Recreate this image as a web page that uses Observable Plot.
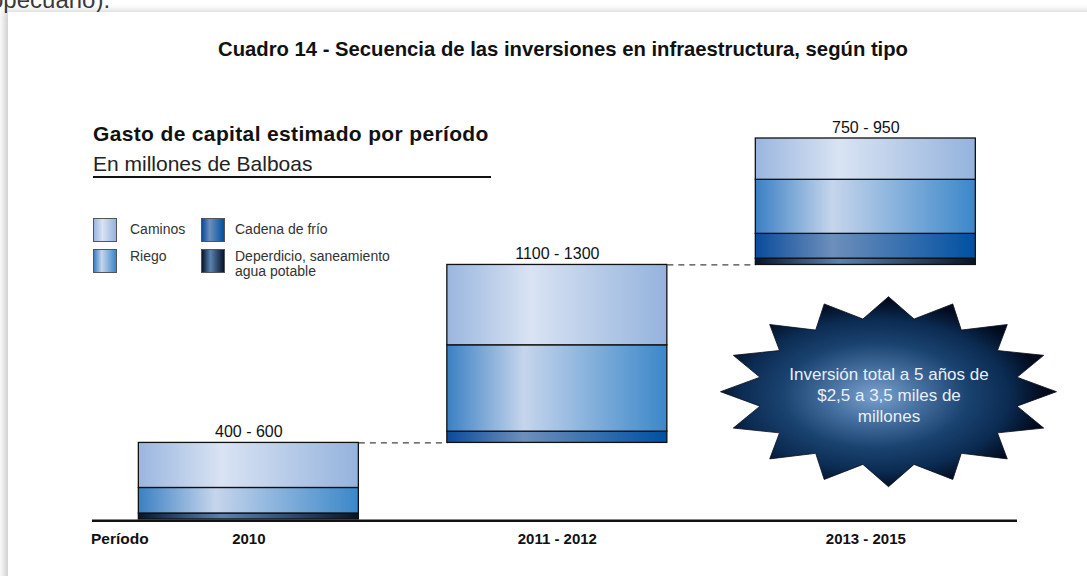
<!DOCTYPE html>
<html><head><meta charset="utf-8">
<script src="https://cdn.jsdelivr.net/npm/d3@7"></script>
<script src="https://cdn.jsdelivr.net/npm/@observablehq/plot@0.6"></script>
<style>
html,body{margin:0;padding:0;background:#fff;width:1087px;height:576px;overflow:hidden;font-family:"Liberation Sans",Arial,sans-serif;}
#page{position:relative;width:1087px;height:576px;overflow:hidden;}
#cut{position:absolute;left:-10px;top:-12px;font-size:24px;line-height:24px;color:#3a3a3a;white-space:nowrap;}
#card{position:absolute;left:8px;top:12px;width:1100px;height:600px;background:#fff;box-shadow:-4px -1px 7px rgba(0,0,0,0.2);}
#chart{position:absolute;left:0;top:0;}
.t{position:absolute;white-space:nowrap;color:#111;}
#title{left:218px;top:37px;font-family:"Liberation Sans",Arial,sans-serif;font-weight:bold;font-size:21px;line-height:24px;transform-origin:0 0;display:inline-block;}
#sub1{left:93px;top:122px;font-weight:bold;font-size:21px;line-height:24px;letter-spacing:0.35px;}
#sub2{left:93px;top:152px;font-size:21px;line-height:24px;color:#222;}
#rule{position:absolute;left:93px;top:176px;width:398px;height:2px;background:#111;}
.sw{position:absolute;width:22px;height:22px;border:1px solid #555;}
.lt{position:absolute;font-size:14px;line-height:15px;color:#333;white-space:nowrap;}
#periodo{left:91px;top:530px;font-weight:bold;font-size:15.5px;line-height:17px;}
</style></head>
<body>
<div id="page">
  <div id="cut">opecuario).</div>
  <div id="card"></div>
  <div id="chart"></div>
  <div class="t" id="title">Cuadro 14 - Secuencia de las inversiones en infraestructura, según tipo</div>
  <div class="t" id="sub1">Gasto de capital estimado por período</div>
  <div class="t" id="sub2">En millones de Balboas</div>
  <div id="rule"></div>
  <div id="legend"></div>
  <div class="t" id="periodo">Período</div>
</div>
<script>
// ---- data ----
const periods = ["2010", "2011 - 2012", "2013 - 2015"];
const rangeLabels = ["400 - 600", "1100 - 1300", "750 - 950"];
const types = ["Caminos", "Riego", "Cadena de frío", "Deperdicio, saneamiento agua potable"];
const caminos = [300, 535, 275];
const riego = [170, 575, 360];
const cadena = [0, 75, 165];
const desperdicio = [40, 0, 42];
const starText = ["Inversión total a 5 años de", "$2,5 a 3,5 miles de", "millones"];

// gradient styles
const grads = {
  gCam: [[0, "#9ab6df"], [0.38, "#d9e3f3"], [1, "#94b3dd"]],
  gRie: [[0, "#3a80c4"], [0.35, "#c6d5ec"], [1, "#3b87c9"]],
  gCad: [[0, "#0a4b9c"], [0.35, "#6d8fbb"], [1, "#0050a2"]],
  gDes: [[0, "#06152e"], [0.38, "#5a82b2"], [1, "#061429"]]
};
const series = [desperdicio, cadena, riego, caminos]; // bottom to top
const gradIds = ["gDes", "gCad", "gRie", "gCam"];

const rows = [];
const tops = [];
let base = 0;
periods.forEach((p, i) => {
  let y = base;
  series.forEach((s, k) => {
    if (s[i] > 0) rows.push({i, k, y1: y, y2: y + s[i]});
    y += s[i];
  });
  tops.push({i, top: y, label: rangeLabels[i]});
  base = y;
});
const total = base;
const hw = 0.3566;

const chart = Plot.plot({
  width: 1087, height: 576,
  marginLeft: 50, marginRight: 23, marginTop: 138, marginBottom: 57,
  x: {domain: [-0.643, 2.644]},
  y: {domain: [0, total], axis: null},
  style: {background: "transparent", fontFamily: "Liberation Sans, Arial, sans-serif", overflow: "visible"},
  marks: [
    Plot.link(tops.slice(0, -1), {x1: d => d.i + hw, x2: d => d.i + 1 - hw, y1: "top", y2: "top", stroke: "#444", strokeWidth: 1.2, strokeDasharray: "6,5"}),
    ...gradIds.map((g, k) => Plot.rect(rows.filter(r => r.k === k), {x1: d => d.i - hw, x2: d => d.i + hw, y1: "y1", y2: "y2", fill: `url(#${g})`, stroke: "#111", strokeWidth: 1.3})),
    Plot.ruleY([0], {insetLeft: 42, insetRight: 47, stroke: "#111", strokeWidth: 2.4, dy: 1.2}),
    Plot.text(tops, {x: "i", y: "top", text: "label", lineAnchor: "bottom", dy: -6, fontSize: 16, fill: "#111"}),
    Plot.axisX({ticks: [0, 1, 2], tickFormat: i => periods[i], tickSize: 0, tickPadding: 14, fontSize: 15, fontWeight: "bold", fill: "#111", label: null})
  ]
});
document.getElementById("chart").appendChild(chart);

// condensed title: fit to the reference width
const title = document.getElementById("title");
const tw = title.getBoundingClientRect().width;
title.style.transform = `scaleX(${690 / tw})`;

const svg = d3.select(chart);
const defs = svg.insert("defs", ":first-child");
Object.entries(grads).forEach(([id, stops]) => {
  const lg = defs.append("linearGradient").attr("id", id).attr("x1", 0).attr("x2", 1).attr("y1", 0).attr("y2", 0);
  stops.forEach(([o, c]) => lg.append("stop").attr("offset", o).attr("stop-color", c));
});
const rg = defs.append("radialGradient").attr("id", "gStar").attr("cx", 0.46).attr("cy", 0.52).attr("r", 0.5);
[[0, "#7ba2cf"], [0.25, "#4a74a4"], [0.55, "#1a4370"], [0.8, "#0b2b52"], [1, "#020b1e"]].forEach(([o, c]) => rg.append("stop").attr("offset", o).attr("stop-color", c));

// starburst decoration
const cx = 888.5, cy = 391.7, rx = 168, ry = 95, n = 16, inner = 0.78;
const pts = [];
for (let j = 0; j < 2 * n; j++) {
  const a = -Math.PI / 2 + j * Math.PI / n;
  const r = j % 2 === 0 ? 1 : inner;
  pts.push([cx + rx * r * Math.cos(a), cy + ry * r * Math.sin(a)]);
}
const star = svg.append("g");
star.append("polygon").attr("points", pts.map(p => p.join(",")).join(" ")).attr("fill", "url(#gStar)").attr("stroke", "#0a0f1a").attr("stroke-width", 0.8);
starText.forEach((t, j) => {
  star.append("text").attr("x", 889).attr("y", 380 + j * 21).attr("text-anchor", "middle")
    .attr("font-size", 17).attr("fill", "#e9eff7").attr("font-family", "Liberation Sans, Arial, sans-serif").text(t);
});

// legend (HTML)
const legend = document.getElementById("legend");
const legendPos = [
  {sx: 93, sy: 218, tx: 130, ty: 222},
  {sx: 93, sy: 249, tx: 130, ty: 249},
  {sx: 201, sy: 218, tx: 235, ty: 222},
  {sx: 201, sy: 249, tx: 235, ty: 249}
];
const legendGrad = ["gCam", "gRie", "gCad", "gDes"];
types.forEach((t, k) => {
  const p = legendPos[k];
  const sw = document.createElement("div");
  sw.className = "sw";
  sw.style.left = p.sx + "px"; sw.style.top = p.sy + "px";
  sw.style.background = "linear-gradient(to right," + grads[legendGrad[k]].map(([o, c]) => c + " " + (o * 100) + "%").join(",") + ")";
  legend.appendChild(sw);
  const lt = document.createElement("div");
  lt.className = "lt";
  lt.style.left = p.tx + "px"; lt.style.top = p.ty + "px";
  if (k === 3) lt.innerHTML = "Deperdicio, saneamiento<br>agua potable"; else lt.textContent = t;
  legend.appendChild(lt);
});
</script>
</body></html>
